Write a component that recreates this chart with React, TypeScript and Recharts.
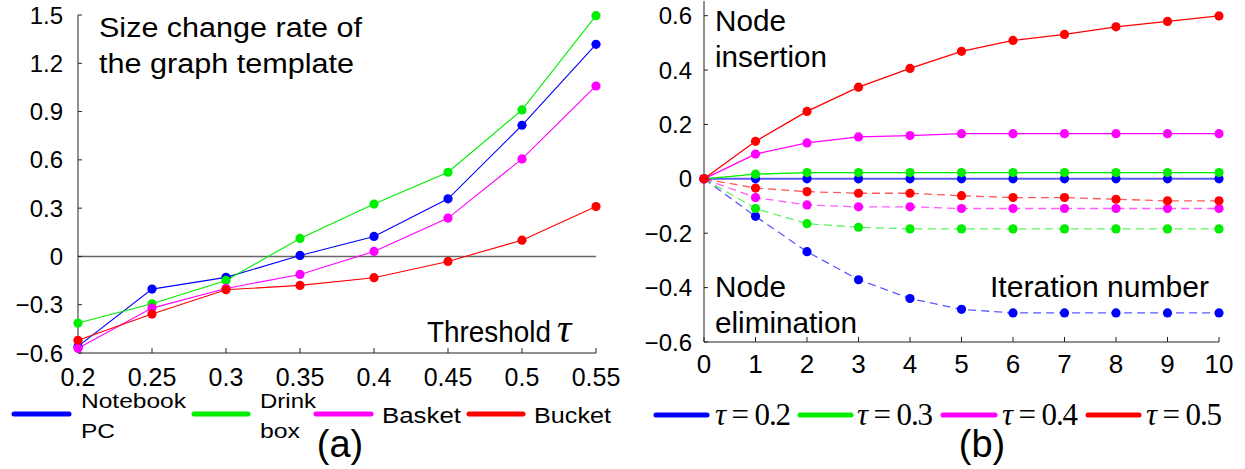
import React from 'react';
import { LineChart, Line, XAxis, YAxis, ReferenceLine } from 'recharts';

// ---------- (a) Size change rate vs threshold ----------
const tauValues = [0.2, 0.25, 0.3, 0.35, 0.4, 0.45, 0.5, 0.55];
const tauTickLabels = ['0.2', '0.25', '0.3', '0.35', '0.4', '0.45', '0.5', '0.55'];
const notebookPC = [-0.559, -0.203, -0.13, 0.006, 0.124, 0.358, 0.815, 1.318];
const drinkBox = [-0.414, -0.294, -0.149, 0.112, 0.325, 0.523, 0.91, 1.496];
const basket = [-0.571, -0.321, -0.199, -0.112, 0.031, 0.238, 0.606, 1.059];
const bucket = [-0.521, -0.358, -0.207, -0.18, -0.132, -0.031, 0.101, 0.31];
const leftYTicks = [-0.6, -0.3, 0, 0.3, 0.6, 0.9, 1.2, 1.5];

// ---------- (b) Node insertion / elimination vs iteration ----------
const iterations = [0, 1, 2, 3, 4, 5, 6, 7, 8, 9, 10];
const insTau02 = [0, 0, 0, 0, 0, 0, 0, 0, 0, 0, 0];
const insTau03 = [0, 0.017, 0.023, 0.023, 0.023, 0.023, 0.023, 0.023, 0.023, 0.023, 0.023];
const insTau04 = [0, 0.091, 0.132, 0.154, 0.159, 0.166, 0.166, 0.166, 0.166, 0.166, 0.166];
const insTau05 = [0, 0.138, 0.248, 0.337, 0.406, 0.469, 0.509, 0.531, 0.559, 0.579, 0.599];
const elimTau02 = [0, -0.138, -0.268, -0.371, -0.44, -0.48, -0.493, -0.493, -0.493, -0.493, -0.493];
const elimTau03 = [0, -0.109, -0.165, -0.178, -0.184, -0.184, -0.184, -0.184, -0.184, -0.184, -0.184];
const elimTau04 = [0, -0.069, -0.096, -0.103, -0.103, -0.109, -0.109, -0.109, -0.109, -0.109, -0.109];
const elimTau05 = [0, -0.034, -0.047, -0.053, -0.053, -0.062, -0.069, -0.069, -0.075, -0.081, -0.081];
const rightYTicks = [-0.6, -0.4, -0.2, 0, 0.2, 0.4, 0.6];
const rightXTicks = [0, 1, 2, 3, 4, 5, 6, 7, 8, 9, 10];

const BLUE = '#0000ff';
const GREEN = '#00ee00';
const MAGENTA = '#ff00ff';
const RED = '#ff0000';

const leftSeries = [
  { key: 'notebook', label: ['Notebook', 'PC'], color: BLUE, values: notebookPC },
  { key: 'drink', label: ['Drink', 'box'], color: GREEN, values: drinkBox },
  { key: 'basket', label: ['Basket'], color: MAGENTA, values: basket },
  { key: 'bucket', label: ['Bucket'], color: RED, values: bucket },
];

const rightSeries = [
  { key: 'e02', color: BLUE, values: elimTau02, dashed: true },
  { key: 'e03', color: GREEN, values: elimTau03, dashed: true },
  { key: 'e04', color: MAGENTA, values: elimTau04, dashed: true },
  { key: 'e05', color: RED, values: elimTau05, dashed: true },
  { key: 'i02', color: BLUE, values: insTau02, dashed: false },
  { key: 'i03', color: GREEN, values: insTau03, dashed: false },
  { key: 'i04', color: MAGENTA, values: insTau04, dashed: false },
  { key: 'i05', color: RED, values: insTau05, dashed: false },
];

const rightLegend = [
  { label: '0.2', color: BLUE },
  { label: '0.3', color: GREEN },
  { label: '0.4', color: MAGENTA },
  { label: '0.5', color: RED },
];

const leftData = tauValues.map((t, i) => {
  const row: Record<string, number> = { tau: t };
  leftSeries.forEach((s) => (row[s.key] = s.values[i]));
  return row;
});

const rightData = iterations.map((it, i) => {
  const row: Record<string, number> = { it };
  rightSeries.forEach((s) => (row[s.key] = s.values[i]));
  return row;
});

const fmt = (v: number) => (v < 0 ? '\u2212' + String(Math.abs(v)) : String(v));
const SANS = 'Liberation Sans';
const SERIF = 'Liberation Serif';

// layout for legend / annotations
const leftLegendPos = [
  { x1: 14, x2: 69, tx: 81, w: [105, 34] },
  { x1: 194, x2: 248, tx: 260, w: [56, 40] },
  { x1: 316, x2: 371, tx: 382, w: [79] },
  { x1: 469, x2: 523, tx: 534, w: [77] },
];
const rightLegendPos = [
  { x1: 656, x2: 707, tx: 715 },
  { x1: 800, x2: 851, tx: 857 },
  { x1: 943, x2: 995, tx: 1002 },
  { x1: 1088, x2: 1139, tx: 1146 },
];

export default function App() {
  return (
    <div style={{ position: 'absolute', left: 0, top: 0, width: 1245, height: 469, background: '#fff', overflow: 'hidden' }}>
      <div style={{ position: 'absolute', left: 0, top: 0 }}>
        <LineChart width={640} height={469} data={leftData} margin={{ top: 15, right: 44, left: 0, bottom: 86 }}>
          <XAxis
            dataKey="tau"
            type="number"
            domain={[0.2, 0.55]}
            ticks={tauValues}
            interval={0}
            tickFormatter={(v: number, i: number) => tauTickLabels[i] ?? String(v)}
            tickSize={-5}
            tickMargin={20}
            height={30}
            axisLine={{ stroke: '#222', strokeWidth: 1 }}
            tickLine={{ stroke: '#222' }}
            tick={{ fontSize: 25, fill: '#000', fontFamily: SANS }}
          />
          <YAxis
            type="number"
            domain={[-0.6, 1.5]}
            ticks={leftYTicks}
            interval={0}
            width={78}
            tickFormatter={fmt}
            tickSize={-4}
            tickMargin={19}
            axisLine={{ stroke: '#222', strokeWidth: 1 }}
            tickLine={{ stroke: '#222' }}
            tick={{ fontSize: 24, fill: '#000', fontFamily: SANS }}
          />
          <ReferenceLine y={0} stroke="#666" strokeWidth={1.6} />
          {leftSeries.map((s) => (
            <Line
              key={s.key}
              dataKey={s.key}
              stroke={s.color}
              strokeWidth={1.1}
              dot={{ r: 4.6, fill: s.color, stroke: 'none' }}
              isAnimationActive={false}
            />
          ))}
        </LineChart>
      </div>
      <div style={{ position: 'absolute', left: 620, top: 0 }}>
        <LineChart width={625} height={469} data={rightData} margin={{ top: 1, right: 26, left: 0, bottom: 97 }}>
          <XAxis
            dataKey="it"
            type="number"
            domain={[0, 10]}
            ticks={rightXTicks}
            interval={0}
            tickSize={-5}
            tickMargin={18}
            height={30}
            axisLine={{ stroke: '#222', strokeWidth: 1 }}
            tickLine={{ stroke: '#222' }}
            tick={{ fontSize: 26, fill: '#000', fontFamily: SANS }}
          />
          <YAxis
            type="number"
            domain={[-0.6, 0.654]}
            ticks={rightYTicks}
            interval={0}
            width={84}
            tickFormatter={fmt}
            tickSize={-4}
            tickMargin={16}
            axisLine={{ stroke: '#222', strokeWidth: 1 }}
            tickLine={{ stroke: '#222' }}
            tick={{ fontSize: 24, fill: '#000', fontFamily: SANS }}
          />
          {rightSeries.map((s) => (
            <Line
              key={s.key}
              dataKey={s.key}
              stroke={s.color}
              strokeOpacity={s.dashed || s.key === 'i02' ? 0.65 : 1}
              strokeWidth={s.key === 'i02' ? 2 : 1.3}
              strokeDasharray={s.dashed ? '8 5' : undefined}
              dot={{ r: 4.6, fill: s.color, stroke: 'none' }}
              isAnimationActive={false}
            />
          ))}
        </LineChart>
      </div>
      <svg width={1245} height={469} style={{ position: 'absolute', left: 0, top: 0, pointerEvents: 'none' }}>
        {/* annotations (a) */}
        <text x={99} y={37} fontFamily={SANS} fontSize={27} textLength={263} lengthAdjust="spacingAndGlyphs">Size change rate of</text>
        <text x={99} y={73} fontFamily={SANS} fontSize={27} textLength={255} lengthAdjust="spacingAndGlyphs">the graph template</text>
        <text x={427} y={342} fontFamily={SANS} fontSize={29} textLength={124} lengthAdjust="spacingAndGlyphs">Threshold</text>
        <text x={557} y={342} fontFamily={SERIF} fontSize={40} fontStyle="italic">τ</text>
        {/* annotations (b) */}
        <text x={715} y={31} fontFamily={SANS} fontSize={29} textLength={71} lengthAdjust="spacingAndGlyphs">Node</text>
        <text x={715} y={67} fontFamily={SANS} fontSize={29} textLength={112} lengthAdjust="spacingAndGlyphs">insertion</text>
        <text x={715} y={297} fontFamily={SANS} fontSize={29} textLength={71} lengthAdjust="spacingAndGlyphs">Node</text>
        <text x={715} y={333} fontFamily={SANS} fontSize={29} textLength={142} lengthAdjust="spacingAndGlyphs">elimination</text>
        <text x={990} y={297} fontFamily={SANS} fontSize={29} textLength={219} lengthAdjust="spacingAndGlyphs">Iteration number</text>
        {/* legend (a) */}
        {leftSeries.map((s, i) => {
          const p = leftLegendPos[i];
          return (
            <g key={s.key}>
              <line x1={p.x1} x2={p.x2} y1={414} y2={414} stroke={s.color} strokeWidth={5} strokeLinecap="round" />
              {s.label.length === 2 ? (
                <>
                  <text x={p.tx} y={408} fontFamily={SANS} fontSize={21} textLength={p.w[0]} lengthAdjust="spacingAndGlyphs">{s.label[0]}</text>
                  <text x={p.tx} y={438} fontFamily={SANS} fontSize={21} textLength={p.w[1]} lengthAdjust="spacingAndGlyphs">{s.label[1]}</text>
                </>
              ) : (
                <text x={p.tx} y={423} fontFamily={SANS} fontSize={22} textLength={p.w[0]} lengthAdjust="spacingAndGlyphs">{s.label[0]}</text>
              )}
            </g>
          );
        })}
        <text x={340} y={457} fontFamily={SANS} fontSize={38} textAnchor="middle">(a)</text>
        {/* legend (b) */}
        {rightLegend.map((s, i) => {
          const p = rightLegendPos[i];
          return (
            <g key={s.label}>
              <line x1={p.x1} x2={p.x2} y1={415} y2={415} stroke={s.color} strokeWidth={5} strokeLinecap="round" />
              <text x={p.tx} y={425} fontFamily={SERIF} fontSize={31} textLength={76} lengthAdjust="spacing">
                <tspan fontStyle="italic">τ</tspan> = {s.label}
              </text>
            </g>
          );
        })}
        <text x={982} y={457} fontFamily={SANS} fontSize={38} textAnchor="middle">(b)</text>
      </svg>
    </div>
  );
}
